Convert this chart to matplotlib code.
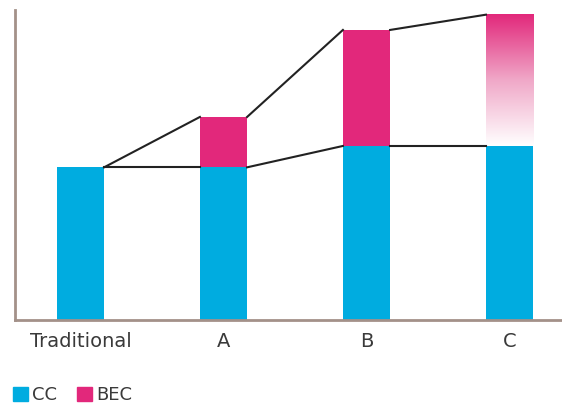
import matplotlib
matplotlib.use("Agg")
import matplotlib.pyplot as plt
import matplotlib.patches as mpatches
from matplotlib.colors import LinearSegmentedColormap
import numpy as np

categories = ["Traditional", "A", "B", "C"]
cc = [100, 100, 114, 114]
bec = [0, 33, 76, 86]

cyan = "#00ace0"
magenta = "#e2287b"
spine_col = "#a39189"
width = 0.33

fig = plt.figure(figsize=[5.62, 4.04], dpi=100)
ax = fig.add_axes([0.0267, 0.208, 0.9733, 0.767])

x = np.arange(len(categories))
ax.bar(x, cc, width, color=cyan, zorder=2)
# solid BEC on all but the last bar, last one fades to white
ax.bar(x[:-1], bec[:-1], width, bottom=cc[:-1], color=magenta, zorder=2)

fade = LinearSegmentedColormap.from_list("fade", ["white", "#f0a8c8", magenta])
grad = np.linspace(0, 1, 256).reshape(-1, 1)
ax.imshow(grad, cmap=fade, origin="lower", aspect="auto", zorder=2,
          extent=[x[-1] - width / 2, x[-1] + width / 2, cc[-1], cc[-1] + bec[-1]])

# connecting lines between bar edges
tops = [c + b for c, b in zip(cc, bec)]
for i in range(len(categories) - 1):
    x0 = x[i] + width / 2
    x1 = x[i + 1] - width / 2
    ax.plot([x0, x1], [tops[i], tops[i + 1]], color="#222222", lw=1.5, zorder=3)
    ax.plot([x0, x1], [tops[i] if i == 0 else cc[i], cc[i + 1]], color="#222222", lw=1.5, zorder=3)

ax.set_xlim(-0.458, 3.367)
ax.set_ylim(0, 203)
ax.set_xticks(x)
ax.set_xticklabels(categories, fontsize=14, color="#3a3a3a")
ax.tick_params(axis="x", length=0, pad=9)
ax.set_yticks([])
ax.spines[["right", "top"]].set_visible(False)
for s in ["left", "bottom"]:
    ax.spines[s].set_color(spine_col)
    ax.spines[s].set_linewidth(2)

handles = [mpatches.Patch(color=cyan, label="CC"), mpatches.Patch(color=magenta, label="BEC")]
fig.legend(handles=handles, loc="lower left", bbox_to_anchor=(-0.005, -0.04), ncol=2,
           frameon=False, fontsize=13, handlelength=0.8, handleheight=0.8,
           handletextpad=0.25, columnspacing=1.1, labelcolor="#3a3a3a")

fig.savefig("out.png", dpi=100)
